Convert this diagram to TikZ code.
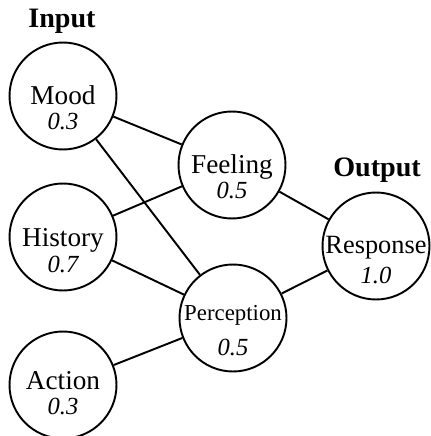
\documentclass[tikz,border=0pt]{standalone}
\usepackage{fontspec}
\setmainfont{Liberation Serif}
\usetikzlibrary{calc}

\tikzset{
  neuron/.style={draw, circle, line width=1.1pt, minimum size=2.14cm, inner sep=0pt},
  title/.style={anchor=base, inner sep=0pt, font=\fontsize{15.5}{15.5}\selectfont},
  weight/.style={anchor=base, inner sep=0pt, font=\fontsize{14}{14}\selectfont\itshape},
  head/.style={anchor=base, inner sep=0pt, font=\fontsize{16}{16}\selectfont\bfseries},
  link/.style={line width=1.1pt}
}

\begin{document}
\begin{tikzpicture}[x=0.02cm, y=-0.02cm]
    \useasboundingbox (0,0) rectangle (430,436);

    % neurons
    \node[neuron] (mood) at (63,96) {};
    \node[neuron] (history) at (63,237) {};
    \node[neuron] (action) at (63,385) {};
    \node[neuron] (feeling) at (232,165) {};
    \node[neuron] (perception) at (233,318) {};
    \node[neuron] (response) at (376,246) {};

    % texts
    \node[title] (mood-t) at ($(mood)+(0,8)$) {Mood};
    \node[weight] (mood-w) at ($(mood)+(0,33)$) {0.3};
    \node[title] (history-t) at ($(history)+(0,9)$) {History};
    \node[weight] (history-w) at ($(history)+(0,35)$) {0.7};
    \node[title] (action-t) at ($(action)+(0,4)$) {Action};
    \node[weight] (action-w) at ($(action)+(0,29)$) {0.3};
    \node[title] (feeling-t) at ($(feeling)+(0,8)$) {Feeling};
    \node[weight] (feeling-w) at ($(feeling)+(0,33)$) {0.5};
    \node[title, font=\fontsize{13}{13}\selectfont] (perception-t) at ($(perception)+(0,2)$) {Perception};
    \node[weight] (perception-w) at ($(perception)+(0,37)$) {0.5};
    \node[title, font=\fontsize{15}{15}\selectfont] (response-t) at ($(response)+(0,7)$) {Response};
    \node[weight] (response-w) at ($(response)+(0,37)$) {1.0};

    \node[head] (input) at (62,28) {Input};
    \node[head] (output) at (377,176) {Output};

    % links
    \draw[link] (mood) -- (feeling);
    \draw[link] (mood) -- (perception);
    \draw[link] (history) -- (feeling);
    \draw[link] (history) -- (perception);
    \draw[link] (action) -- (perception);
    \draw[link] (feeling) -- (response);
    \draw[link] (perception) -- (response);
\end{tikzpicture}
\end{document}
